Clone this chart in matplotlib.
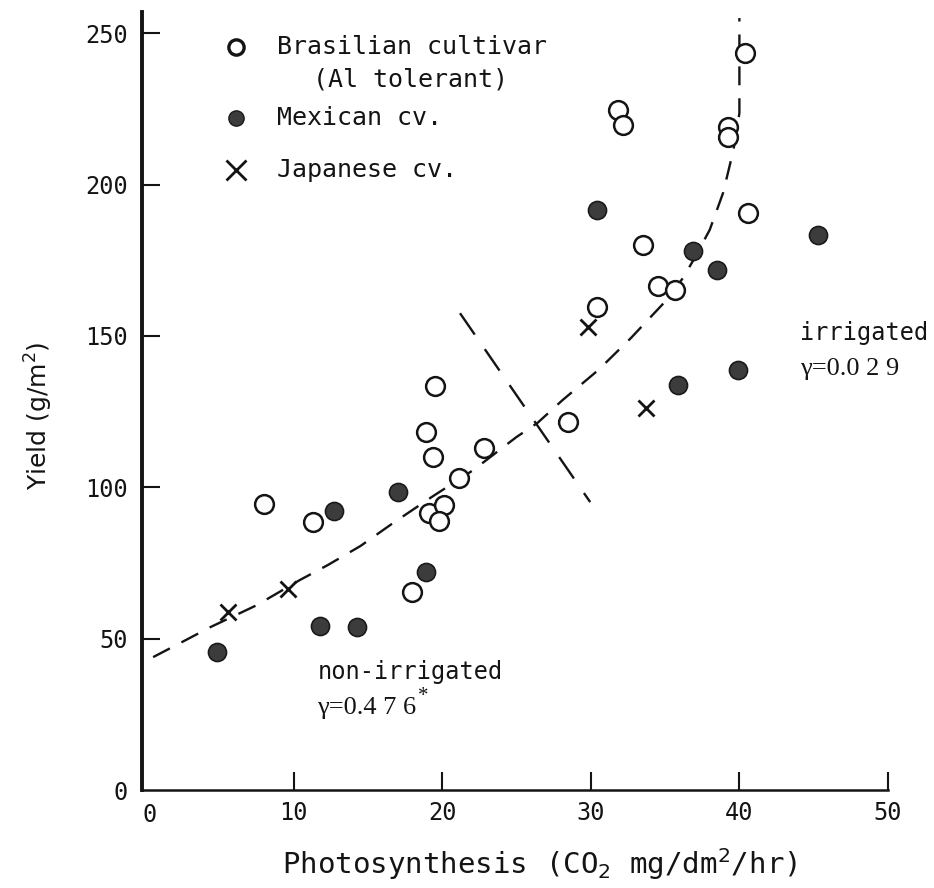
import matplotlib
matplotlib.use("Agg")
import matplotlib.pyplot as plt
from matplotlib.transforms import ScaledTranslation

# ---- data -------------------------------------------------------------
# Brasilian cultivar (Al tolerant) - open circles
bra_x = [40.4, 39.25, 39.25, 31.8, 32.2, 40.6, 33.5, 34.5, 35.7, 30.4, 28.5,
         19.5, 18.9, 19.4, 21.1, 22.8, 8.0, 11.3, 19.1, 20.1, 19.8, 18.0]
bra_y = [243.4, 219.0, 215.7, 224.6, 219.6, 190.6, 180.0, 166.4, 165.1, 159.5, 121.5,
         133.4, 118.2, 110.0, 103.0, 112.9, 94.5, 88.5, 91.5, 94.1, 88.8, 65.4]

# Mexican cv. - filled circles
mex_x = [30.4, 45.3, 36.9, 38.5, 35.9, 39.9, 12.7, 17.0, 18.9, 4.85, 11.8, 14.3]
mex_y = [191.5, 183.3, 178.0, 171.7, 133.8, 138.7, 92.1, 98.4, 72.0, 45.6, 54.2, 53.8]

# Japanese cv. - crosses
jap_x = [29.8, 33.7, 9.6, 5.6]
jap_y = [152.9, 126.2, 66.4, 58.8]

# fitted yield-photosynthesis curve
curve_x = [0.55, 2.35, 4.4, 7.5, 10.4, 12.3, 14.5, 16.7, 19.3, 22.1, 25.0, 26.4,
           28.1, 30.5, 32.7, 34.9, 36.2, 36.9, 38.0, 38.9, 39.6, 40.0, 40.0]
curve_y = [43.9, 48.5, 53.8, 61.0, 69.3, 74.3, 80.6, 88.2, 96.8, 105.7, 116.6, 121.2,
           128.8, 138.7, 149.3, 160.8, 169.1, 175.0, 185.0, 197.2, 211.4, 223.6, 255.0]

# boundary between non-irrigated and irrigated plots
sep_x = [21.2, 29.96]
sep_y = [157.5, 95.1]

x_ticks = [0, 10, 20, 30, 40, 50]
y_ticks = [0, 50, 100, 150, 200, 250]

INK = "#141414"
MONO = "DejaVu Sans Mono"
SERIF = "Liberation Serif"

W, H = 934, 888
fig = plt.figure(figsize=(W / 100, H / 100), dpi=100)
fig.patch.set_facecolor("white")
ax = fig.add_axes([142 / W, (H - 790) / H, (888 - 142) / W, (790 - 12) / H])
ax.set_xlim(-0.2, 50)
ax.set_ylim(0, 257)

# axes frame: only left and bottom lines
for side in ("top", "right"):
    ax.spines[side].set_visible(False)
ax.spines["left"].set_linewidth(2.8)
ax.spines["bottom"].set_linewidth(1.8)
ax.spines["left"].set_color(INK)
ax.spines["bottom"].set_color(INK)

ax.set_xticks(x_ticks)
ax.set_yticks(y_ticks)
ax.set_xticklabels([str(v) for v in x_ticks], fontfamily=MONO, fontsize=17, color=INK)
ax.set_yticklabels([str(v) for v in y_ticks], fontfamily=MONO, fontsize=17, color=INK)
ax.tick_params(axis="x", direction="in", length=13, width=1.5, pad=8, colors=INK)
ax.tick_params(axis="y", direction="in", length=13, width=1.5, pad=10, colors=INK)

# the origin ticks coincide with the axis lines themselves
ax.xaxis.get_major_ticks()[0].tick1line.set_visible(False)
ax.yaxis.get_major_ticks()[0].tick1line.set_visible(False)
zero_lbl = ax.get_xticklabels()[0]
zero_lbl.set_transform(zero_lbl.get_transform() + ScaledTranslation(5 / 100, -2 / 100, fig.dpi_scale_trans))

# fitted curve and plot boundary
ax.plot(curve_x, curve_y, color=INK, lw=1.7, dashes=(8, 5.5), zorder=2)
ax.plot(sep_x, sep_y, color=INK, lw=1.7, dashes=(11, 7.5), zorder=2)

# observations
ax.plot(bra_x, bra_y, ls="none", marker="o", ms=13.5, mfc="white", mec=INK, mew=1.8, zorder=3)
ax.plot(mex_x, mex_y, ls="none", marker="o", ms=13, mfc="#3c3c3c", mec="#1a1a1a", mew=1.2, zorder=3)
ax.plot(jap_x, jap_y, ls="none", marker="x", ms=12, mec=INK, mew=2.0, zorder=4)

# key
key_mx = 6.1
key_tx = 8.9
ax.plot([key_mx], [245.4], marker="o", ms=11, mfc="white", mec=INK, mew=2.4, clip_on=False)
ax.plot([key_mx], [221.9], marker="o", ms=11, mfc="#3c3c3c", mec="#1a1a1a", mew=1.0, clip_on=False)
ax.plot([key_mx], [204.8], marker="x", ms=14, mec=INK, mew=2.0, clip_on=False)
ax.text(key_tx, 245.4, "Brasilian cultivar", fontfamily=MONO, fontsize=18, color=INK,
        va="center", ha="left")
ax.text(key_tx + 2.4, 234.6, "(Al tolerant)", fontfamily=MONO, fontsize=18, color=INK,
        va="center", ha="left")
ax.text(key_tx, 221.9, "Mexican cv.", fontfamily=MONO, fontsize=18, color=INK,
        va="center", ha="left")
ax.text(key_tx, 204.8, "Japanese cv.", fontfamily=MONO, fontsize=18, color=INK,
        va="center", ha="left")

# correlation annotations
ax.text(44.1, 151.0, "irrigated", fontfamily=MONO, fontsize=17, color=INK,
        va="center", ha="left", clip_on=False)
ax.text(44.1, 139.0, "γ=0.0 2 9", fontfamily=SERIF, fontsize=19,
        color=INK, va="center", ha="left", clip_on=False)
ax.text(11.6, 39.0, "non-irrigated", fontfamily=MONO, fontsize=17, color=INK,
        va="center", ha="left")
ax.text(11.6, 27.0, "γ=0.4 7 6", fontfamily=SERIF, fontsize=19,
        color=INK, va="center", ha="left")
ax.text(18.35, 31.0, "*", fontfamily=SERIF, fontsize=15, color=INK,
        va="center", ha="left")

# axis titles
fig.text(540 / W, 1 - 864 / H, r"Photosynthesis (CO$_2$ mg/dm$^2$/hr)", fontfamily=MONO,
         fontsize=21, color=INK, ha="center", va="center")
fig.text(39 / W, 1 - 416 / H, r"Yield (g/m$^2$)", fontfamily="DejaVu Sans",
         fontsize=18, color=INK, ha="center", va="center", rotation=90)

fig.savefig("out.png", dpi=100, facecolor="white")
